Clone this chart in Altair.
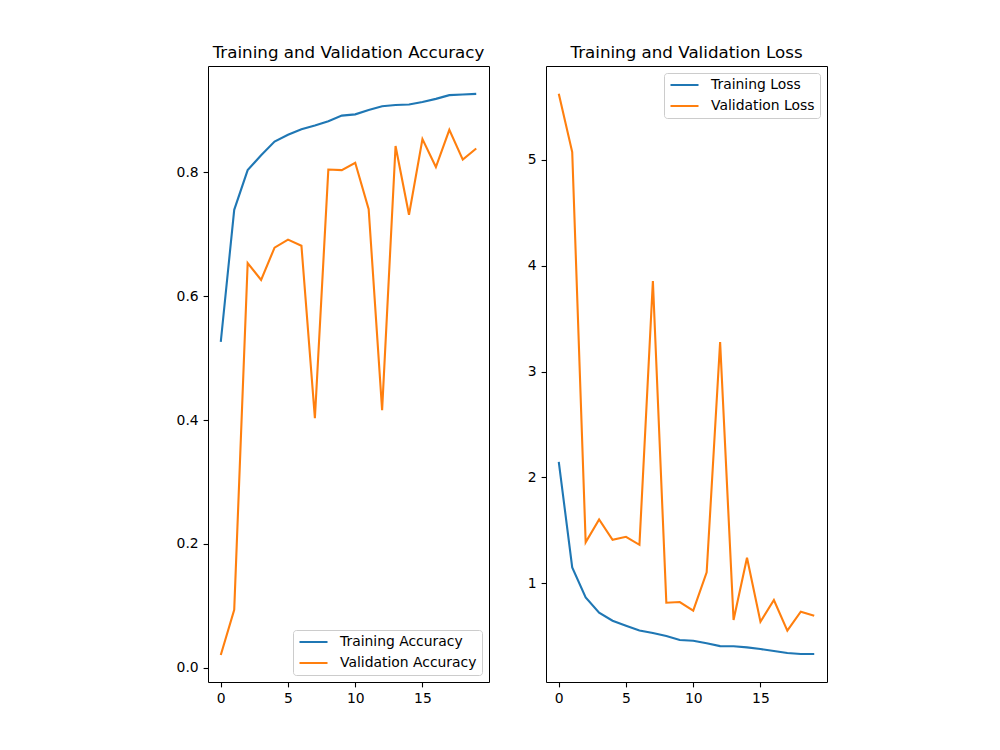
import altair as alt
import pandas as pd

epochs = list(range(20))

train_acc = [0.526, 0.739, 0.803, 0.827, 0.849, 0.860, 0.869, 0.875, 0.882, 0.891,
             0.893, 0.900, 0.906, 0.908, 0.909, 0.913, 0.918, 0.924, 0.925, 0.926]
val_acc = [0.021, 0.094, 0.653, 0.626, 0.678, 0.691, 0.681, 0.403, 0.804, 0.803,
           0.815, 0.740, 0.416, 0.842, 0.731, 0.853, 0.808, 0.868, 0.820, 0.838]

train_loss = [2.147, 1.151, 0.868, 0.723, 0.647, 0.600, 0.556, 0.531, 0.503, 0.465,
              0.459, 0.434, 0.408, 0.406, 0.396, 0.380, 0.361, 0.342, 0.333, 0.333]
val_loss = [5.623, 5.072, 1.387, 1.604, 1.411, 1.440, 1.364, 3.855, 0.817, 0.824,
            0.742, 1.104, 3.279, 0.654, 1.242, 0.638, 0.843, 0.553, 0.732, 0.694]

acc_labels = ["Training Accuracy", "Validation Accuracy"]
loss_labels = ["Training Loss", "Validation Loss"]
colors = ["#1f77b4", "#ff7f0e"]

acc_df = pd.DataFrame({
    "epoch": epochs * 2,
    "value": train_acc + val_acc,
    "series": [acc_labels[0]] * 20 + [acc_labels[1]] * 20,
})
loss_df = pd.DataFrame({
    "epoch": epochs * 2,
    "value": train_loss + val_loss,
    "series": [loss_labels[0]] * 20 + [loss_labels[1]] * 20,
})

FONT = "DejaVu Sans"
W, H = 281, 616


def panel(df, labels, title, ydomain, yvalues, yfmt, legend_orient):
    legend = alt.Legend(
        title=None, orient=legend_orient, offset=7,
        fillColor="rgba(255,255,255,0.8)", strokeColor="#cccccc",
        cornerRadius=3, padding=5, rowPadding=7, clipHeight=14,
        symbolType="M-1,0H1", symbolSize=784, symbolStrokeWidth=2.1,
        labelFontSize=13.9, labelFont=FONT, labelColor="black", labelOffset=11,
        labelLimit=300,
    )
    return alt.Chart(df).mark_line(strokeWidth=2.1).encode(
        x=alt.X("epoch:Q",
                scale=alt.Scale(domain=[-0.95, 19.95], nice=False, zero=False),
                axis=alt.Axis(values=[0, 5, 10, 15], format="d", title=None)),
        y=alt.Y("value:Q",
                scale=alt.Scale(domain=ydomain, nice=False, zero=False),
                axis=alt.Axis(values=yvalues, format=yfmt, title=None)),
        color=alt.Color("series:N",
                        scale=alt.Scale(domain=labels, range=colors),
                        legend=legend),
    ).properties(
        width=W, height=H,
        title=alt.TitleParams(title, fontSize=16.7, font=FONT, fontWeight="normal",
                              color="black", anchor="middle", baseline="alphabetic",
                              offset=-8.5),
    )


left = panel(acc_df, acc_labels, "Training and Validation Accuracy",
             [-0.0226, 0.971], [0.0, 0.2, 0.4, 0.6, 0.8], ".1f", "bottom-right")
right = panel(loss_df, loss_labels, "Training and Validation Loss",
              [0.069, 5.884], [1, 2, 3, 4, 5], "d", "top-right")

chart = alt.hconcat(left, right, spacing=57, bounds="flush").resolve_scale(
    color="independent"
).resolve_legend(
    color="independent"
).properties(
    padding={"left": 167, "top": 36, "right": 5, "bottom": 5},
    background="white",
).configure_view(
    stroke="black", strokeWidth=1
).configure_axis(
    domain=False, grid=False,
    tickColor="black", tickSize=4.9, tickWidth=1.1,
    labelFont=FONT, labelFontSize=13.9, labelColor="black", labelPadding=4.9,
)

chart.save("out.html", embed_options={"renderer": "svg", "actions": False})
